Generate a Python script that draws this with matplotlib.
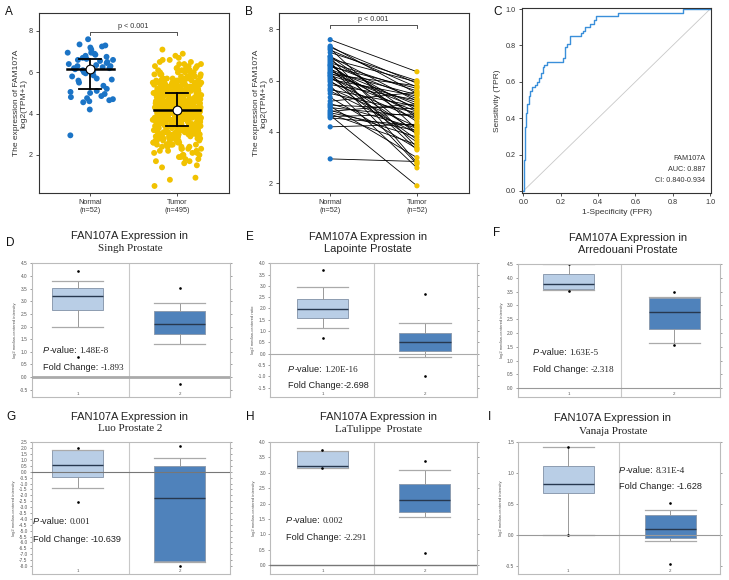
import numpy as np
import matplotlib
matplotlib.use('Agg')
import matplotlib.pyplot as plt
from matplotlib.ticker import FormatStrFormatter

SANS = 'Liberation Sans'
SERIF = 'Liberation Serif'
plt.rcParams['font.family'] = [SANS, 'DejaVu Sans']

W, H = 729, 580

# ---- panel A / B data (TCGA prostate, log2(TPM+1)) ----
normal_expr = [7.6, 7.35, 7.3, 7.25, 7.2, 7.1, 6.95, 6.95, 6.9, 6.85, 6.8, 6.75, 6.7,
               6.65, 6.6, 6.6, 6.55, 6.5, 6.45, 6.4, 6.35, 6.3, 6.3, 6.25, 6.2, 6.2,
               6.15, 6.1, 6.05, 6.0, 5.95, 5.85, 5.8, 5.7, 5.65, 5.6, 5.5, 5.35, 5.2,
               5.1, 5.05, 5.0, 4.95, 4.85, 4.8, 4.75, 4.7, 4.65, 4.6, 4.55, 4.2, 2.95]
# paired tumour value for each normal sample above (same order)
tumor_paired = [6.35, 5.5, 5.9, 4.1, 5.75, 6.0, 4.55, 5.2, 3.4, 5.95, 4.85, 2.8, 5.6,
                3.9, 5.3, 4.4, 5.7, 3.3, 5.05, 4.65, 5.45, 2.75, 4.95, 5.8, 4.0, 5.15,
                3.7, 4.8, 5.4, 3.6, 4.5, 5.25, 2.6, 4.2, 5.0, 3.95, 4.75, 3.35, 5.55,
                4.15, 4.9, 3.0, 4.6, 3.8, 5.1, 4.05, 3.5, 1.9, 4.7, 4.25, 4.3, 2.85]
# 495 tumour samples, counted per 0.1 level from 0.5 to 7.1
tumor_levels = np.round(np.arange(0.5, 7.15, 0.1), 1)
tumor_counts = [1, 0, 0, 1, 1, 0, 0, 0, 0, 1, 1, 1, 2, 2, 2, 3, 3, 3, 4, 4,
                5, 6, 7, 8, 8, 11, 12, 12, 13, 14, 14, 15, 16, 16, 17,
                17, 19, 19, 19, 16, 16, 15, 15, 14, 14, 14, 14, 13, 12, 11,
                11, 8, 7, 6, 5, 5, 4, 4, 3, 3, 2, 2, 1, 1, 1, 0, 1]

# ---- panel C ROC ----
roc_fpr = [0, 0.004, 0.008, 0.014, 0.018, 0.028, 0.036, 0.045, 0.06, 0.075, 0.085, 0.095,
           0.105, 0.11, 0.125, 0.21, 0.222, 0.235, 0.25, 0.31, 0.32, 0.33, 0.355, 0.38,
           0.39, 0.505, 0.855, 1.0]
roc_tpr = [0, 0.17, 0.35, 0.43, 0.48, 0.52, 0.55, 0.57, 0.58, 0.60, 0.62, 0.65,
           0.68, 0.69, 0.71, 0.73, 0.79, 0.81, 0.85, 0.87, 0.88, 0.90, 0.92, 0.94,
           0.96, 0.98, 1.0, 1.0]

# ---- Oncomine boxes: [whisker low, q1, median, q3, whisker high] ----
singh_n = [2.00, 2.65, 3.22, 3.52, 3.80];  singh_n_out = [4.20, 0.80]
singh_t = [1.32, 1.70, 2.08, 2.63, 2.93];  singh_t_out = [3.52, -0.27]
lapointe_n = [1.12, 1.60, 1.98, 2.43, 2.97];  lapointe_n_out = [3.72, 0.70]
lapointe_t = [-0.15, 0.12, 0.52, 0.92, 1.35];  lapointe_t_out = [2.65, -1.00]
arred_n = [3.56, 3.58, 3.76, 4.14, 4.50];  arred_n_out = [4.50, 3.52]
arred_t = [1.65, 2.13, 2.75, 3.27, 3.30];  arred_t_out = [3.50, 1.57]
luo_n = [-1.40, -0.47, 0.55, 1.85, 1.85];  luo_n_out = [2.05, -2.54]
luo_t = [-7.62, -7.56, -2.26, 0.46, 1.14];  luo_t_out = [2.19, -8.00]
latul_n = [3.16, 3.16, 3.21, 3.71, 3.71];  latul_n_out = [3.72, 3.15]
latul_t = [1.58, 1.72, 2.10, 2.62, 3.07];  latul_t_out = [3.36, 0.41]
vanaja_n = [0.00, 0.67, 0.82, 1.11, 1.42];  vanaja_n_out = [1.42, 0.00]
vanaja_t = [-0.09, -0.04, 0.10, 0.33, 0.40];  vanaja_t_out = [0.51, -0.46]

BLUE = '#1b74c6'
YELLOW = '#f1c200'
BOX1 = '#b9cee6'
BOX2 = '#4f82bb'

fig = plt.figure(figsize=(W / 100, H / 100), dpi=100)


def px_ax(l, t, r, b):
    return fig.add_axes([l / W, 1 - b / H, (r - l) / W, (b - t) / H])


def spread(n, seed):
    # deterministic horizontal jitter in [0, 1) for the strip plot
    i = np.arange(n) + seed
    return (np.sin(i * 12.9898 + 78.233) * 43758.5453) % 1.0


def style_top(ax):
    for s in ax.spines.values():
        s.set_color('#333333')
        s.set_linewidth(0.8)
    ax.tick_params(labelsize=5.2, length=2.5, width=0.6, colors='#333333', pad=2)


# ---------------- A ----------------
axA = px_ax(39, 13, 229, 193)
tumor_expr = np.repeat(tumor_levels, tumor_counts)
xn = (spread(len(normal_expr), 3) - 0.5) * 0.54
xt = 1 + (spread(len(tumor_expr), 101) - 0.5) * 0.56
axA.scatter(xn, normal_expr, s=18, color=BLUE, edgecolors='none', zorder=2)
axA.scatter(xt, tumor_expr, s=18, color=YELLOW, edgecolors='none', zorder=2)
for g, vals in [(0, normal_expr), (1, tumor_expr)]:
    q1, med, q3 = np.percentile(vals, [25, 50, 75])
    axA.plot([g, g], [q1, q3], color='k', lw=1.3, zorder=3)
    axA.plot([g - 0.13, g + 0.13], [q1, q1], color='k', lw=1.3, zorder=3)
    axA.plot([g - 0.13, g + 0.13], [q3, q3], color='k', lw=1.3, zorder=3)
    axA.plot([g - 0.27, g + 0.27], [med, med], color='k', lw=1.8, zorder=3)
    axA.scatter([g], [med], s=40, facecolor='white', edgecolor='k', lw=0.8, zorder=4)
axA.plot([0, 0, 1, 1], [7.8, 7.95, 7.95, 7.8], color='#333333', lw=0.6)
axA.text(0.5, 8.05, 'p < 0.001', ha='center', va='bottom', fontsize=5.2, color='#333333')
axA.set_xlim(-0.59, 1.6)
axA.set_ylim(0.16, 8.87)
axA.set_yticks([2, 4, 6, 8])
axA.set_xticks([0, 1], ['Normal\n(n=52)', 'Tumor\n(n=495)'])
axA.set_ylabel('The expression of FAM107A\nlog2(TPM+1)', fontsize=6, color='#333333',
               labelpad=1, linespacing=1.1)
style_top(axA)

# ---------------- B ----------------
axB = px_ax(279, 13, 469, 193)
for n, t in zip(normal_expr, tumor_paired):
    axB.plot([0, 1], [n, t], color='k', lw=0.6, zorder=1)
axB.scatter(np.zeros(len(normal_expr)), normal_expr, s=14, color=BLUE, edgecolors='none', zorder=2)
axB.scatter(np.ones(len(tumor_paired)), tumor_paired, s=14, color=YELLOW, edgecolors='none', zorder=2)
axB.plot([0, 0, 1, 1], [8.06, 8.19, 8.19, 8.06], color='#333333', lw=0.6)
axB.text(0.5, 8.26, 'p < 0.001', ha='center', va='bottom', fontsize=5.2, color='#333333')
axB.set_xlim(-0.59, 1.6)
axB.set_ylim(1.62, 8.64)
axB.set_yticks([2, 4, 6, 8])
axB.set_xticks([0, 1], ['Normal\n(n=52)', 'Tumor\n(n=52)'])
axB.set_ylabel('The expression of FAM107A\nlog2(TPM+1)', fontsize=6, color='#333333',
               labelpad=1, linespacing=1.1)
style_top(axB)

# ---------------- C ----------------
axC = px_ax(522, 8, 711, 193)
axC.plot([0, 1], [0, 1], color='#c8c8c8', lw=0.6)
axC.plot(roc_fpr, roc_tpr, drawstyle='steps-post', color='#3a8fda', lw=1.0)
axC.set_xlim(-0.007, 1.005)
axC.set_ylim(-0.011, 1.006)
ticks = [0, 0.2, 0.4, 0.6, 0.8, 1.0]
axC.set_xticks(ticks)
axC.set_yticks(ticks)
axC.xaxis.set_major_formatter(FormatStrFormatter('%.1f'))
axC.yaxis.set_major_formatter(FormatStrFormatter('%.1f'))
axC.set_xlabel('1-Specificity (FPR)', fontsize=6, color='#333333', labelpad=2)
axC.set_ylabel('Sensitivity (TPR)', fontsize=6, color='#333333', labelpad=3)
style_top(axC)
for s, yy in [('FAM107A', 0.18), ('AUC: 0.887', 0.12), ('CI: 0.840-0.934', 0.06)]:
    axC.text(0.975, yy, s, ha='right', va='center', fontsize=5.2, color='#333333')


# ---------------- Oncomine box panels ----------------
def stats(q, out):
    return dict(whislo=q[0], q1=q[1], med=q[2], q3=q[3], whishi=q[4], fliers=out)


def box_panel(rect, xlim, ylim, yticks, bn, bn_out, bt, bt_out, ylabel, zero_color, zero_lw, width):
    ax = px_ax(*rect)
    bp = ax.bxp([stats(bn, bn_out), stats(bt, bt_out)], positions=[1, 2], widths=width,
                patch_artist=True, showfliers=True,
                boxprops=dict(edgecolor='#8d9cb0', lw=0.7),
                medianprops=dict(color='#27384f', lw=1.0),
                whiskerprops=dict(color='#999999', lw=0.7),
                capprops=dict(color='#aaaaaa', lw=0.9),
                flierprops=dict(marker='o', markersize=0.9, markerfacecolor='k',
                                markeredgecolor='k'))
    for cap in bp['caps']:
        x0, x1 = cap.get_xdata()
        c = (x0 + x1) / 2
        cap.set_xdata([c - width / 2, c + width / 2])
    bp['boxes'][0].set_facecolor(BOX1)
    bp['boxes'][1].set_facecolor(BOX2)
    ax.axvline(1.5, color='#c8c8c8', lw=0.8, zorder=0)
    ax.axhline(0, color=zero_color, lw=zero_lw, zorder=3)
    ax.set_xlim(*xlim)
    ax.set_ylim(*ylim)
    ax.set_xticks([])
    ax.set_yticks(yticks)
    ax.yaxis.set_major_formatter(FormatStrFormatter('%.1f'))
    ax.tick_params(axis='y', labelsize=3.4, length=1.5, width=0.4, colors='#555555',
                   right=True, pad=1.5)
    for s in ax.spines.values():
        s.set_color('#bbbbbb')
        s.set_linewidth(0.8)
    tr = ax.get_xaxis_transform()
    ax.text(1, 0.01, '1', transform=tr, ha='center', va='bottom', fontsize=3.2, color='#555555')
    ax.text(2, 0.01, '2', transform=tr, ha='center', va='bottom', fontsize=3.2, color='#555555')
    ax.set_ylabel(ylabel, fontsize=3, color='#555555', labelpad=2)
    return ax


INT = 'log2 median-centered intensity'
box_panel((31.7, 263.3, 230, 397.3), (0.55, 2.49), (-0.8, 4.5), np.arange(-0.5, 4.51, 0.5),
          singh_n, singh_n_out, singh_t, singh_t_out, INT, '#aaaaaa', 2.0, 0.5)
box_panel((270, 263.3, 477.3, 397.3), (0.485, 2.51), (-1.93, 4.0), np.arange(-1.5, 4.01, 0.5),
          lapointe_n, lapointe_n_out, lapointe_t, lapointe_t_out,
          'log2 median-centered ratio', '#aaaaaa', 0.8, 0.5)
box_panel((517.7, 264, 720, 397.3), (0.52, 2.43), (-0.33, 4.5), np.arange(0, 4.51, 0.5),
          arred_n, arred_n_out, arred_t, arred_t_out, INT, '#999999', 0.8, 0.48)
box_panel((31.7, 441.7, 230, 574.3), (0.55, 2.49), (-8.7, 2.55), np.arange(-8, 2.51, 0.5),
          luo_n, luo_n_out, luo_t, luo_t_out, INT, '#777777', 0.8, 0.5)
box_panel((270, 441.7, 476.7, 574.3), (0.487, 2.51), (-0.29, 4.0), np.arange(0, 4.01, 0.5),
          latul_n, latul_n_out, latul_t, latul_t_out, INT, '#777777', 1.0, 0.5)
box_panel((518.3, 441.7, 720, 574.3), (0.508, 2.49), (-0.63, 1.5), np.arange(-0.5, 1.51, 0.5),
          vanaja_n, vanaja_n_out, vanaja_t, vanaja_t_out, INT, '#999999', 0.8, 0.5)

# ---------------- text overlay (pixel coordinates) ----------------
ov = fig.add_axes([0, 0, 1, 1], zorder=10)
ov.set_xlim(0, W)
ov.set_ylim(H, 0)
ov.axis('off')

for s, x, y in [('A', 5, 12), ('B', 245, 12), ('C', 493, 12), ('D', 6, 243), ('E', 246, 237),
                ('F', 493, 233), ('G', 6, 417), ('H', 246, 417), ('I', 488, 417)]:
    ov.text(x, y, s, fontsize=8.5, ha='left', va='center', color='#111111')

titles = [(130, 235.7, 'FAN107A Expression in', 248.5, 'Singh Prostate', SERIF),
          (368, 236.7, 'FAM107A Expression in', 249.3, 'Lapointe Prostate', SANS),
          (628, 237.7, 'FAM107A Expression in', 250.3, 'Arredouani Prostate', SANS),
          (130, 416.7, 'FAN107A Expression in', 428.5, 'Luo Prostate 2', SERIF),
          (379, 416.7, 'FAN107A Expression in', 429.3, 'LaTulippe  Prostate', SERIF),
          (613, 417.7, 'FAN107A Expression in', 431.0, 'Vanaja Prostate', SERIF)]
for x, y1, t1, y2, t2, fam in titles:
    ov.text(x, y1, t1, fontsize=8, ha='center', va='center', color='#222222')
    ov.text(x, y2, t2, fontsize=8, ha='center', va='center', color='#222222', family=fam)


def rich(x, y, parts, size=6.6):
    prev = None
    for s, fam, style, gap in parts:
        if prev is None:
            prev = ov.annotate(s, (x, y), ha='left', va='center', fontsize=size,
                               family=fam, style=style, color='#222222')
        else:
            prev = ov.annotate(s, xy=(1, 0), xycoords=prev, xytext=(gap, 0),
                               textcoords='offset points', ha='left', va='bottom',
                               fontsize=size, family=fam, style=style, color='#222222')


def pval(x, y, num):
    rich(x, y, [('P', SANS, 'italic', 0), ('-value:', SANS, 'normal', 0),
                (num, SERIF, 'normal', 2)])


def fold(x, y, num, fam, gap=2):
    rich(x, y, [('Fold Change:', SANS, 'normal', 0), (num, fam, 'normal', gap)])


pval(43, 350.7, '1.48E-8');   fold(43, 367.7, '-1.893', SERIF)
pval(288, 369, '1.20E-16');   fold(288, 385, '-2.698', SANS, gap=0)
pval(533, 352.7, '1.63E-5');  fold(533, 369, '-2.318', SERIF)
pval(33, 521.7, '0.001');     fold(33, 539, '-10.639', SANS)
pval(286, 520.7, '0.002');    fold(286, 537.7, '-2.291', SERIF)
pval(619, 470.7, '8.31E-4');  fold(619, 486.7, '-1.628', SANS)

fig.savefig('out.png', dpi=100)
